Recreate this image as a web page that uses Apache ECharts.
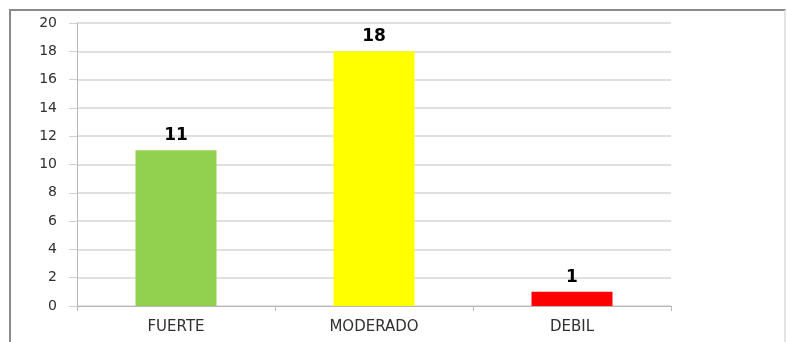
<!DOCTYPE html>
<html>
<head>
<meta charset="utf-8">
<script src="https://cdn.jsdelivr.net/npm/echarts@6/dist/echarts.min.js"></script>
<style>
  html, body { margin: 0; padding: 0; background: #fff; }
  #frame {
    position: absolute; left: 9px; top: 9px; width: 773px; height: 340px;
    border-top: 2px solid #8a8a8a; border-left: 2px solid #8a8a8a; border-right: 2px solid #e4e4e4;
  }
  #chart { position: absolute; left: 0; top: 0; width: 787px; height: 342px; }
</style>
</head>
<body>
<div id="frame"></div>
<div id="chart"></div>
<script>
const categories = ['FUERTE', 'MODERADO', 'DEBIL'];
const values = [11, 18, 1];
const barColors = ['#92D050', '#FFFF00', '#FF0000'];
const yTicks = { min: 0, max: 20, interval: 2 };

const chart = echarts.init(document.getElementById('chart'));
chart.setOption({
    backgroundColor: 'transparent',
    animation: false,
    grid: { left: 77, right: 116, top: 23, bottom: 36 },
    xAxis: {
        type: 'category',
        data: categories,
        axisLine: { lineStyle: { color: '#b8b8b8', width: 1 } },
        axisTick: { show: true, length: 5, lineStyle: { color: '#b8b8b8' } },
        axisLabel: { color: '#303030', fontFamily: 'DejaVu Sans', fontSize: 15, margin: 14 }
    },
    yAxis: {
        type: 'value',
        min: yTicks.min,
        max: yTicks.max,
        interval: yTicks.interval,
        axisLine: { show: true, lineStyle: { color: '#b8b8b8', width: 1 } },
        axisTick: { show: true, length: 8, lineStyle: { color: '#d0d0d0' } },
        splitLine: { lineStyle: { color: '#d6d6d6', width: 1.5 } },
        axisLabel: { color: '#303030', fontFamily: 'DejaVu Sans', fontSize: 14, margin: 20 }
    },
    series: [{
        type: 'bar',
        barWidth: 81,
        data: values.map((v, i) => ({ value: v, itemStyle: { color: barColors[i] } })),
        label: {
            show: true,
            position: 'top',
            distance: 6,
            color: '#000',
            fontWeight: 'bold',
            fontFamily: 'DejaVu Sans',
            fontSize: 17
        }
    }]
});
</script>
</body>
</html>
